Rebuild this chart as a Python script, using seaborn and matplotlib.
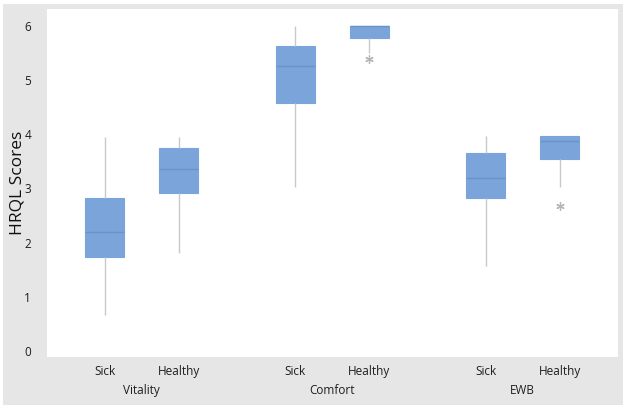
import numpy as np
import pandas as pd
import matplotlib
matplotlib.use("Agg")
import matplotlib.pyplot as plt
import matplotlib.transforms as mtransforms
from matplotlib.patches import Rectangle
import seaborn as sns

# ---- data ----
scales = ["Vitality", "Comfort", "EWB"]
statuses = ["Sick", "Healthy"]
vitality_sick = [0.67, 1.2, 1.74, 2.0, 2.2, 2.5, 2.83, 3.4, 3.95]
vitality_healthy = [1.8, 2.5, 2.92, 3.1, 3.36, 3.55, 3.74, 3.9, 3.95]
comfort_sick = [3.02, 4.0, 4.57, 5.0, 5.25, 5.4, 5.62, 5.8, 6.0]
comfort_healthy = [5.38, 5.5, 5.77, 5.9, 6.0, 6.0, 6.0, 6.0, 6.0]
ewb_sick = [1.56, 2.3, 2.82, 3.0, 3.19, 3.4, 3.65, 3.8, 3.96]
ewb_healthy = [2.68, 3.03, 3.54, 3.7, 3.88, 3.95, 3.97, 3.97, 3.97]
y_ticks = [0, 1, 2, 3, 4, 5, 6]
y_label = "HRQL Scores"

series = {
    ("Vitality", "Sick"): vitality_sick,
    ("Vitality", "Healthy"): vitality_healthy,
    ("Comfort", "Sick"): comfort_sick,
    ("Comfort", "Healthy"): comfort_healthy,
    ("EWB", "Sick"): ewb_sick,
    ("EWB", "Healthy"): ewb_healthy,
}
rows = []
for (sc, st), vals in series.items():
    for v in vals:
        rows.append({"Scale": sc, "Status": st, "Score": v})
df = pd.DataFrame(rows)

# ---- style ----
sns.set_style("white")
plt.rcParams["font.family"] = ["Open Sans", "DejaVu Sans"]

BOX = "#7BA5DA"
MED = "#6A93C8"
WHISK = "#C9C9C9"
BG = "#E6E6E6"
TXT = "#1E1E1E"

fig = plt.figure(figsize=(6.28, 4.08), dpi=100, facecolor="white")
bgrect = Rectangle((3 / 628, 3 / 408), 620 / 628, 401 / 408,
                   transform=fig.transFigure, facecolor=BG,
                   edgecolor="none", zorder=-10)
fig.patches.append(bgrect)
ax = fig.add_axes([46.5 / 628, 51 / 408, 571.5 / 628, 348 / 408])
ax.set_zorder(1)
ax.set_facecolor("white")

WIDTH = 0.772
sns.boxplot(data=df, x="Scale", y="Score", hue="Status", order=scales,
            hue_order=statuses, palette=[BOX, BOX], saturation=1,
            width=WIDTH, gap=0.47, whis=1.6, showcaps=False, legend=False,
            linewidth=1,
            boxprops=dict(edgecolor=BOX, linewidth=0.8),
            medianprops=dict(color=MED, linewidth=1.0),
            whiskerprops=dict(color=WHISK, linewidth=1.0),
            flierprops=dict(marker=(6, 2, 0), markersize=6,
                            markerfacecolor="#B5B5B5",
                            markeredgecolor="#B5B5B5", markeredgewidth=0.9,
                            linewidth=0),
            ax=ax)

ax.set_xlim(-0.5, 2.5)
ax.set_ylim(-0.11, 6.31)
ax.set_yticks(y_ticks)
ax.set_yticklabels([str(t) for t in y_ticks], fontsize=8.5, color=TXT)

off = WIDTH / 4
pos, labs = [], []
for i, sc in enumerate(scales):
    for j, st in enumerate(statuses):
        pos.append(i + (-off if j == 0 else off))
        labs.append(st)
ax.set_xticks(pos)
ax.set_xticklabels(labs, fontsize=8.5, color=TXT)
ax.tick_params(axis="both", length=3, color="#D0D0D0", width=0.8)
ax.tick_params(axis="x", pad=3)
ax.tick_params(axis="y", pad=8)

trans = mtransforms.blended_transform_factory(ax.transData, ax.transAxes)
for i, sc in enumerate(scales):
    ax.text(i, -0.095, sc, transform=trans, ha="center", va="center",
            fontsize=8.5, color=TXT)

ax.set_xlabel("")
ax.set_ylabel(y_label, fontsize=12.5, color="#111111")
ax.yaxis.set_label_coords(-0.036, 0.5)

for s in ax.spines.values():
    s.set_visible(False)

fig.savefig("out.png", dpi=100, facecolor="white")
